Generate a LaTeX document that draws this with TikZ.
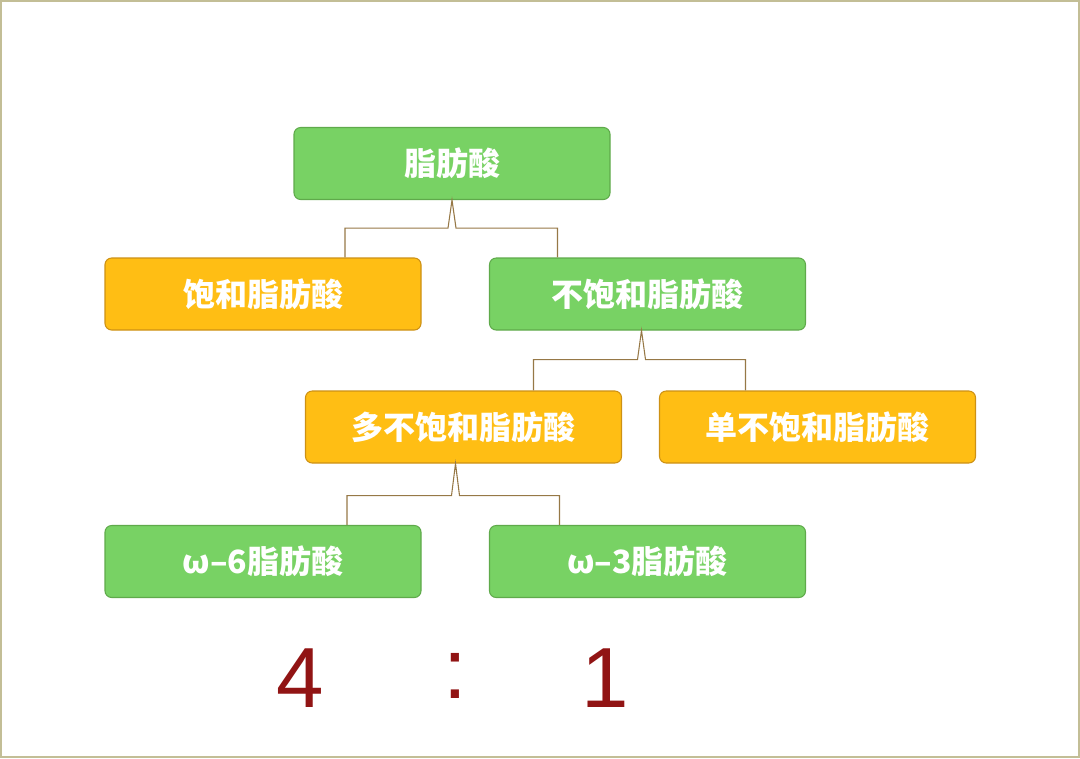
\documentclass[tikz,border=0pt]{standalone}
\usepackage{fontspec}
\setmainfont{Noto Sans CJK SC}
\newfontfamily\ratiofont{Liberation Sans}
\usepackage{tikz}
\usetikzlibrary{calc}
\definecolor{leafgreen}{RGB}{120,210,100}
\definecolor{leafedge}{RGB}{95,170,75}
\definecolor{amber}{RGB}{255,190,20}
\definecolor{amberedge}{RGB}{205,145,20}
\definecolor{wire}{RGB}{150,120,70}
\definecolor{frameline}{RGB}{195,190,150}
\definecolor{ratiored}{RGB}{145,20,20}
\tikzset{
  fatbox/.style={rounded corners=5pt, line width=0.8pt, minimum width=237pt, minimum height=54pt,
    inner sep=0pt, text=white, font=\fontsize{24}{28}\selectfont\bfseries},
  greenbox/.style={fatbox, fill=leafgreen, draw=leafedge},
  amberbox/.style={fatbox, fill=amber, draw=amberedge},
  branch/.style={draw=wire, line width=0.8pt},
  ratio/.style={text=ratiored, font=\fontsize{64}{70}\selectfont\ratiofont}
}
\begin{document}
\begin{tikzpicture}[x=0.75pt,y=0.75pt,yscale=-1,xscale=1]
	\useasboundingbox (0,0) rectangle (1080,758);
	%frame
	\draw [frameline, line width=1pt] (1,1) rectangle (1079,757);
	
	% boxes
	\node [greenbox] (fatty) at (452,163.5) {脂肪酸};
	\node [amberbox] (sat) at (263,294) {饱和脂肪酸};
	\node [greenbox] (unsat) at (647.5,294) {不饱和脂肪酸};
	\node [amberbox] (poly) at (463.5,427) {多不饱和脂肪酸};
	\node [amberbox] (mono) at (817.5,427) {单不饱和脂肪酸};
	\node [greenbox] (omegasix) at (263,561.5) {ω–6脂肪酸};
	\node [greenbox] (omegathree) at (647.5,561.5) {ω–3脂肪酸};
	
	% branches
	\draw [branch] ($(sat.north)+(82,0)$) |- ($(fatty.south)+(-4,28)$) -- (fatty.south) -- ($(fatty.south)+(4,28)$) -| ($(unsat.north)+(-90,0)$);
	\draw [branch] ($(poly.north)+(70,0)$) |- ($(unsat.south)+(-10,29)$) -- ($(unsat.south)+(-6,0)$) -- ($(unsat.south)+(-2,29)$) -| ($(mono.north)+(-72,0)$);
	\draw [branch] ($(omegasix.north)+(84,0)$) |- ($(poly.south)+(-12,32)$) -- ($(poly.south)+(-8,0)$) -- ($(poly.south)+(-4,32)$) -| ($(omegathree.north)+(-88,0)$);
	
	% ratio
	\node [ratio] (four) at (300,678) {4};
	\node [ratio] (colon) at (455,676) {:};
	\node [ratio] (one) at (605,678) {1};
\end{tikzpicture}
\end{document}
